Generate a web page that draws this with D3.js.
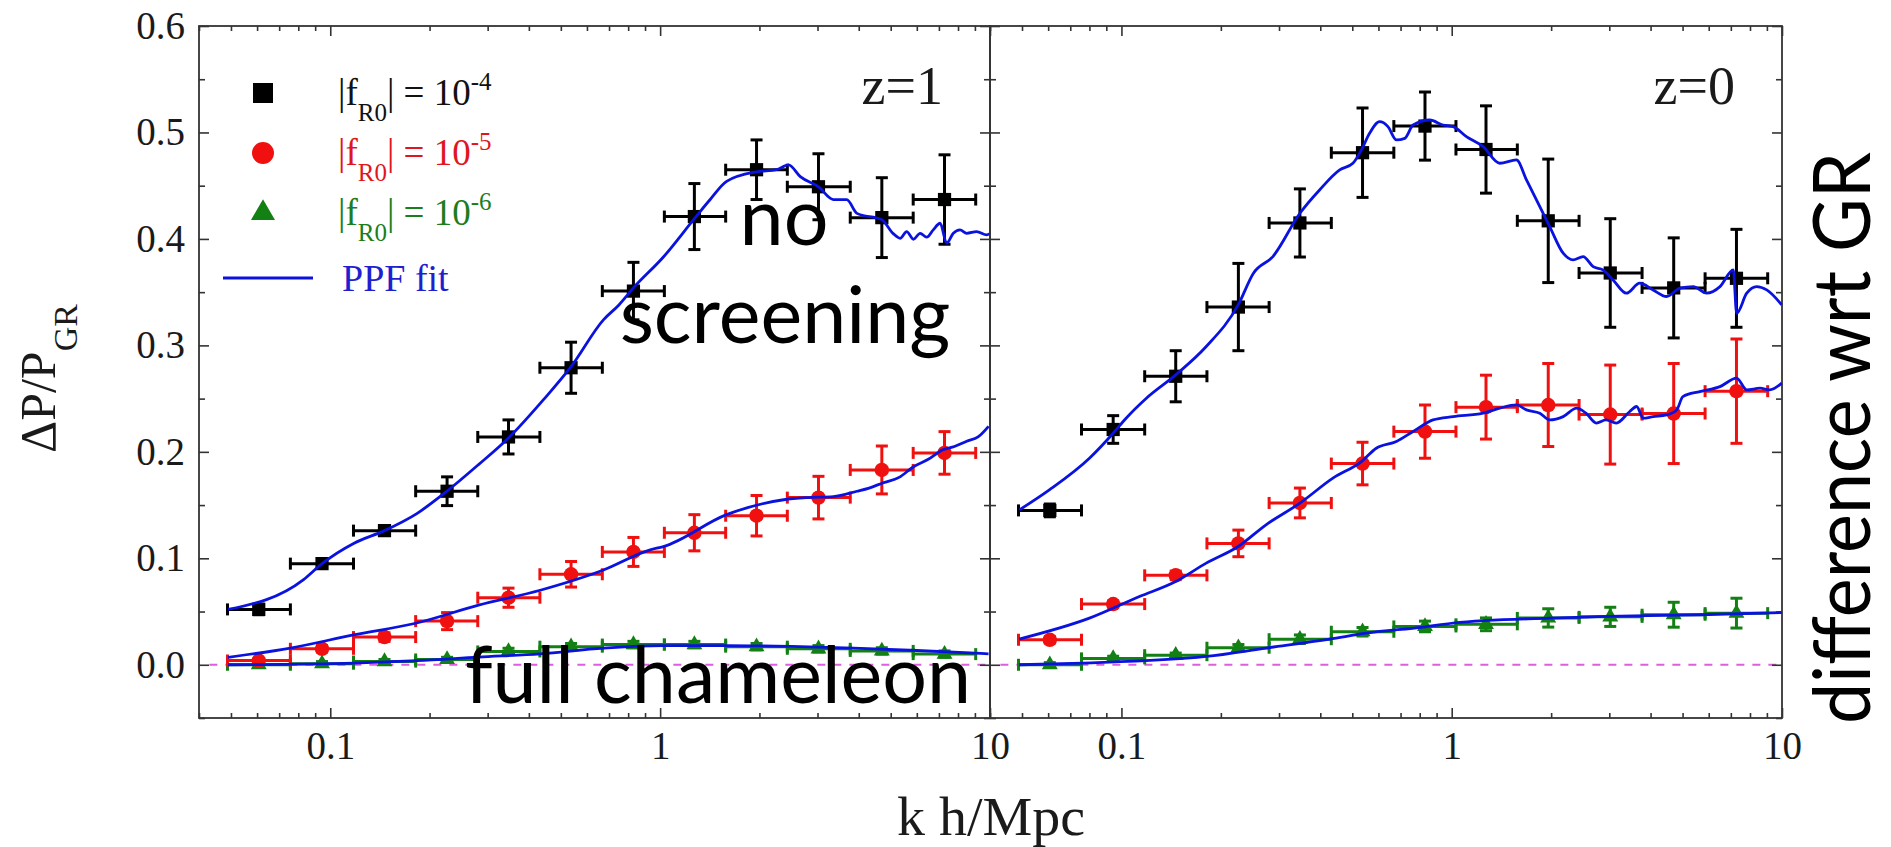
<!DOCTYPE html>
<html><head><meta charset="utf-8">
<script src="https://cdn.jsdelivr.net/npm/d3@7"></script>
<style>html,body{margin:0;padding:0;background:#fff;} svg{display:block}</style>
</head><body>
<svg id="chart" width="1891" height="847"></svg>
<script>
// ---------------- DATA ----------------
const kCenters = [0.0607, 0.0944, 0.146, 0.226, 0.347, 0.537, 0.83, 1.27, 1.96, 3.02, 4.70, 7.28];
const kEdges   = [0.0488, 0.0757, 0.1176, 0.1815, 0.28, 0.432, 0.668, 1.03, 1.58, 2.43, 3.77, 5.85, 9.05];

// z = 1 panel
const blackZ1    = [0.052, 0.095, 0.126, 0.163, 0.214, 0.279, 0.351, 0.421, 0.465, 0.449, 0.420, 0.437];
const blackZ1Err = [0.005, 0.004, 0.004, 0.0135, 0.016, 0.024, 0.027, 0.031, 0.028, 0.031, 0.0375, 0.042];
const redZ1      = [0.004, 0.015, 0.026, 0.041, 0.063, 0.085, 0.106, 0.124, 0.140, 0.157, 0.183, 0.199];
const redZ1Err   = [0.002, 0.003, 0.004, 0.008, 0.009, 0.012, 0.0136, 0.017, 0.019, 0.020, 0.0225, 0.020];
const greenZ1    = [0.000, 0.001, 0.003, 0.005, 0.0125, 0.017, 0.019, 0.019, 0.017, 0.015, 0.013, 0.010];
const greenZ1Err = [0.002, 0.002, 0.002, 0.002, 0.003, 0.003, 0.003, 0.003, 0.003, 0.003, 0.003, 0.003];

// z = 0 panel
const blackZ0    = [0.145, 0.221, 0.271, 0.336, 0.415, 0.481, 0.506, 0.484, 0.417, 0.368, 0.354, 0.363];
const blackZ0Err = [0.006, 0.013, 0.024, 0.041, 0.032, 0.042, 0.032, 0.041, 0.058, 0.051, 0.047, 0.046];
const redZ0      = [0.0235, 0.057, 0.084, 0.114, 0.152, 0.189, 0.219, 0.242, 0.244, 0.235, 0.236, 0.257];
const redZ0Err   = [0.003, 0.003, 0.004, 0.0125, 0.014, 0.020, 0.025, 0.030, 0.039, 0.0465, 0.047, 0.049];
const greenZ0    = [0.000, 0.006, 0.009, 0.016, 0.024, 0.031, 0.036, 0.038, 0.044, 0.045, 0.047, 0.0485];
const greenZ0Err = [0.002, 0.002, 0.002, 0.003, 0.004, 0.004, 0.005, 0.006, 0.0086, 0.009, 0.0117, 0.014];

// PPF fit curves [k, dP/P]
const fitZ1Black = [[0.049,0.052],[0.083,0.080],[0.0944,0.095],[0.1177,0.114],[0.146,0.126],[0.183,0.142],[0.2257,0.163],[0.2815,0.188],[0.347,0.213],[0.443,0.249],[0.537,0.280],[0.673,0.324],[0.75,0.338],[0.83,0.354],[1.023,0.383],[1.27,0.419],[1.418,0.437],[1.59,0.454],[1.96,0.463],[2.25,0.465],[2.45,0.4695],[2.66,0.4585],[3.02,0.449],[3.35,0.437],[3.68,0.437],[3.95,0.424],[4.70,0.418],[5.09,0.405],[5.34,0.4006],[5.59,0.4069],[5.86,0.3997],[6.14,0.4053],[6.43,0.4016],[6.73,0.4085],[7.06,0.4147],[7.39,0.396],[7.74,0.4053],[8.11,0.4085],[8.5,0.4053],[9.11,0.4069],[9.77,0.4038],[10,0.405]];
const fitZ1Red = [[0.049,0.007],[0.0757,0.0157],[0.1176,0.028],[0.1815,0.039],[0.2815,0.056],[0.433,0.070],[0.673,0.089],[0.933,0.108],[1.023,0.111],[1.59,0.141],[2.37,0.155],[2.8,0.157],[3.35,0.158],[3.95,0.163],[4.3,0.166],[4.75,0.171],[5.3,0.176],[5.86,0.186],[6.5,0.193],[7.2,0.202],[7.8,0.205],[8.5,0.210],[9.2,0.214],[9.9,0.224]];
const fitZ1Green = [[0.049,0.000],[0.1177,0.0016],[0.183,0.0038],[0.2815,0.0072],[0.433,0.0103],[0.673,0.0157],[0.933,0.0178],[1.023,0.018],[1.59,0.018],[2.5,0.0172],[3.86,0.0157],[6.0,0.0134],[9.9,0.0103]];
const fitZ0Black = [[0.0491,0.1455],[0.0605,0.1643],[0.08,0.194],[0.0944,0.2175],[0.1033,0.2316],[0.119,0.2504],[0.146,0.2723],[0.1806,0.2989],[0.2257,0.338],[0.251,0.3678],[0.2874,0.3834],[0.347,0.4241],[0.398,0.446],[0.458,0.4648],[0.502,0.471],[0.533,0.4836],[0.564,0.4992],[0.605,0.5101],[0.641,0.5055],[0.68,0.493],[0.721,0.4945],[0.764,0.507],[0.858,0.5117],[0.941,0.507],[1.01,0.5055],[1.108,0.4961],[1.244,0.4867],[1.398,0.4711],[1.57,0.4742],[1.684,0.4554],[1.848,0.4304],[1.98,0.4116],[2.175,0.3866],[2.33,0.3803],[2.5,0.3834],[2.68,0.374],[2.87,0.3709],[3.08,0.3615],[3.38,0.349],[3.71,0.3584],[4.07,0.3521],[4.47,0.3459],[4.91,0.3537],[5.39,0.3552],[5.91,0.349],[6.49,0.3552],[7.12,0.3709],[7.29,0.3302],[7.82,0.349],[8.38,0.3552],[8.99,0.3521],[9.98,0.338]];
const fitZ0Red = [[0.049,0.0241],[0.08,0.0438],[0.1134,0.0641],[0.146,0.0782],[0.1806,0.0955],[0.2257,0.1111],[0.274,0.1315],[0.347,0.1518],[0.4368,0.1753],[0.533,0.1909],[0.591,0.2034],[0.68,0.2097],[0.764,0.2191],[0.878,0.23],[1.01,0.2331],[1.244,0.2363],[1.398,0.241],[1.57,0.2441],[1.684,0.2394],[1.848,0.2363],[1.98,0.23],[2.175,0.2331],[2.39,0.241],[2.55,0.2363],[2.74,0.227],[2.93,0.23],[3.15,0.227],[3.46,0.2379],[3.63,0.2426],[3.80,0.2316],[4.07,0.2331],[4.47,0.2347],[4.80,0.2394],[5.01,0.2519],[5.64,0.2566],[6.49,0.2613],[7.29,0.2692],[7.82,0.2582],[8.58,0.2598],[9.19,0.2582],[9.98,0.2645]];
const fitZ0Green = [[0.049,0.000],[0.0764,0.0016],[0.1806,0.0078],[0.274,0.0157],[0.427,0.0241],[0.551,0.0297],[0.818,0.0354],[1.01,0.0392],[1.98,0.0438],[3.55,0.046],[5.64,0.047],[9.98,0.0491]];

const xMajor = [0.1, 1, 10];
const xMinor = [0.04,0.05,0.06,0.07,0.08,0.09,0.2,0.3,0.4,0.5,0.6,0.7,0.8,0.9,2,3,4,5,6,7,8,9];
const yMajor = [0, 0.1, 0.2, 0.3, 0.4, 0.5, 0.6];
const yMinor = [-0.05, 0.05, 0.15, 0.25, 0.35, 0.45, 0.55];

const legendLabels = ["10", "10", "10"];
const legendExponents = ["-4", "-5", "-6"];
const panelLabels = ["z=1", "z=0"];

// ---------------- DRAWING ----------------
const SERIF = "'Liberation Serif','Times New Roman',serif";
const SANS = "Lato, 'Open Sans', sans-serif";
const COL = {black: "#000000", red: "#f01010", green: "#138013", blue: "#0a12e0", axis: "#333"};
const svg = d3.select("#chart");

const y = d3.scaleLinear().domain([-0.05, 0.6]).range([718, 26]);

const panels = [
  { x: d3.scaleLog().domain([0.04, 10]).range([199, 990]), label: panelLabels[0],
    series: [
      {vals: greenZ1, err: greenZ1Err, color: COL.green, sym: d3.symbolTriangle, size: 110},
      {vals: redZ1, err: redZ1Err, color: COL.red, sym: d3.symbolCircle, size: 165},
      {vals: blackZ1, err: blackZ1Err, color: COL.black, sym: d3.symbolSquare, size: 175}],
    fits: [fitZ1Green, fitZ1Red, fitZ1Black] },
  { x: d3.scaleLog().domain([0.04, 10]).range([990, 1782]), label: panelLabels[1],
    series: [
      {vals: greenZ0, err: greenZ0Err, color: COL.green, sym: d3.symbolTriangle, size: 110},
      {vals: redZ0, err: redZ0Err, color: COL.red, sym: d3.symbolCircle, size: 165},
      {vals: blackZ0, err: blackZ0Err, color: COL.black, sym: d3.symbolSquare, size: 175}],
    fits: [fitZ0Green, fitZ0Red, fitZ0Black] }
];

function styleAxis(g, showText) {
  g.select(".domain").remove();
  g.selectAll(".tick line").attr("stroke", COL.axis).attr("stroke-width", 1.6);
  if (showText) {
    g.selectAll(".tick text").attr("font-family", SERIF).attr("font-size", 39).attr("fill", "#1a1a1a");
  } else {
    g.selectAll(".tick text").remove();
  }
}

panels.forEach((p, pi) => {
  const x = p.x;
  const [x0, x1] = x.range();
  const [yb, yt] = y.range();
  const g = svg.append("g");

  // zero reference line (dashed magenta)
  g.append("line")
    .attr("x1", x(0.043)).attr("x2", x(9.9)).attr("y1", y(0)).attr("y2", y(0))
    .attr("stroke", "#dd5fdd").attr("stroke-width", 2).attr("stroke-dasharray", "8,8");

  // bottom axis (major with labels, minor)
  const bMaj = g.append("g").attr("transform", `translate(0,${yb})`)
    .call(d3.axisBottom(x).tickValues(xMajor).tickFormat(d => String(d)).tickSize(-10).tickSizeOuter(0).tickPadding(13));
  styleAxis(bMaj, true);
  const bMin = g.append("g").attr("transform", `translate(0,${yb})`)
    .call(d3.axisBottom(x).tickValues(xMinor).tickSize(-5).tickSizeOuter(0));
  styleAxis(bMin, false);
  // top axis
  const tMaj = g.append("g").attr("transform", `translate(0,${yt})`)
    .call(d3.axisTop(x).tickValues(xMajor).tickSize(-10).tickSizeOuter(0));
  styleAxis(tMaj, false);
  const tMin = g.append("g").attr("transform", `translate(0,${yt})`)
    .call(d3.axisTop(x).tickValues(xMinor).tickSize(-5).tickSizeOuter(0));
  styleAxis(tMin, false);

  // left axis of panel
  const lMaj = g.append("g").attr("transform", `translate(${x0},0)`)
    .call(d3.axisLeft(y).tickValues(yMajor).tickFormat(d3.format(".1f")).tickSize(-10).tickSizeOuter(0).tickPadding(14));
  styleAxis(lMaj, pi === 0);
  const lMin = g.append("g").attr("transform", `translate(${x0},0)`)
    .call(d3.axisLeft(y).tickValues(yMinor).tickSize(-6).tickSizeOuter(0));
  styleAxis(lMin, false);
  // right axis of panel
  const rMaj = g.append("g").attr("transform", `translate(${x1},0)`)
    .call(d3.axisRight(y).tickValues(yMajor).tickSize(-10).tickSizeOuter(0));
  styleAxis(rMaj, false);
  const rMin = g.append("g").attr("transform", `translate(${x1},0)`)
    .call(d3.axisRight(y).tickValues(yMinor).tickSize(-6).tickSizeOuter(0));
  styleAxis(rMin, false);

  // frame
  g.append("rect").attr("x", x0).attr("y", yt).attr("width", x1 - x0).attr("height", yb - yt)
    .attr("fill", "none").attr("stroke", COL.axis).attr("stroke-width", 1.8);

  // data with error bars
  p.series.forEach(s => {
    const sg = g.append("g").attr("stroke", s.color).attr("stroke-width", 3).attr("fill", "none");
    s.vals.forEach((v, i) => {
      const cx = x(kCenters[i]), cy = y(v);
      const xl = x(kEdges[i]), xr = x(kEdges[i + 1]);
      const ylo = y(v - s.err[i]), yhi = y(v + s.err[i]);
      // horizontal bar with end caps
      sg.append("line").attr("x1", xl).attr("x2", xr).attr("y1", cy).attr("y2", cy);
      sg.append("line").attr("x1", xl).attr("x2", xl).attr("y1", cy - 6).attr("y2", cy + 6);
      sg.append("line").attr("x1", xr).attr("x2", xr).attr("y1", cy - 6).attr("y2", cy + 6);
      // vertical bar with caps
      sg.append("line").attr("x1", cx).attr("x2", cx).attr("y1", ylo).attr("y2", yhi);
      sg.append("line").attr("x1", cx - 6).attr("x2", cx + 6).attr("y1", ylo).attr("y2", ylo);
      sg.append("line").attr("x1", cx - 6).attr("x2", cx + 6).attr("y1", yhi).attr("y2", yhi);
    });
    g.append("g").selectAll("path").data(s.vals).join("path")
      .attr("d", d3.symbol().type(s.sym).size(s.size))
      .attr("transform", (v, i) => `translate(${x(kCenters[i])},${y(v)})`)
      .attr("fill", s.color);
  });

  // PPF fits
  const line = d3.line().x(d => x(d[0])).y(d => y(d[1])).curve(d3.curveMonotoneX);
  p.fits.forEach(f => {
    g.append("path").datum(f).attr("d", line)
      .attr("fill", "none").attr("stroke", COL.blue).attr("stroke-width", 2.8).attr("stroke-linejoin", "round");
  });

  // panel label
  g.append("text").attr("x", x1 - 47).attr("y", 104).attr("text-anchor", "end")
    .attr("font-family", SERIF).attr("font-size", 54).attr("fill", "#1a1a1a").text(p.label);
});

// ---------------- LEGEND ----------------
const legColors = [COL.black, COL.red, COL.green];
const legSyms = [d3.symbolSquare, d3.symbolCircle, d3.symbolTriangle];
const legSizes = [400, 380, 250];
const legTextColors = ["#111", "#e0161e", "#1b7d1b"];
const legBase = [105, 165, 225];
const leg = svg.append("g");
legBase.forEach((b, i) => {
  leg.append("path").attr("d", d3.symbol().type(legSyms[i]).size(legSizes[i])())
    .attr("transform", `translate(263,${b - 12})`).attr("fill", legColors[i]);
  const t = leg.append("text").attr("x", 338).attr("y", b)
    .attr("font-family", SERIF).attr("font-size", 37).attr("fill", legTextColors[i]);
  t.append("tspan").text("|f");
  t.append("tspan").attr("font-size", 25).attr("dy", 16).text("R0");
  t.append("tspan").attr("dy", -16).text("| = " + legendLabels[i]);
  t.append("tspan").attr("font-size", 25).attr("dy", -15).text(legendExponents[i]);
});
leg.append("line").attr("x1", 223).attr("x2", 313).attr("y1", 278).attr("y2", 278)
  .attr("stroke", COL.blue).attr("stroke-width", 2.8);
leg.append("text").attr("x", 342).attr("y", 291).attr("font-family", SERIF).attr("font-size", 38)
  .attr("fill", "#1f1fd0").text("PPF fit");

// ---------------- AXIS TITLES ----------------
const yl = svg.append("text").attr("transform", "translate(55,453) rotate(-90)")
  .attr("font-family", SERIF).attr("font-size", 50).attr("fill", "#1a1a1a");
yl.append("tspan").text("ΔP/P");
yl.append("tspan").attr("font-size", 34).attr("dy", 22).text("GR");

svg.append("text").attr("x", 991).attr("y", 835).attr("text-anchor", "middle")
  .attr("font-family", SERIF).attr("font-size", 54).attr("fill", "#1a1a1a")
  .attr("textLength", 188).attr("lengthAdjust", "spacingAndGlyphs").text("k h/Mpc");

// ---------------- ANNOTATIONS ----------------
const ann = svg.append("g").attr("font-family", SANS).attr("font-size", 79).attr("fill", "#000");
ann.append("text").attr("x", 784).attr("y", 245).attr("text-anchor", "middle").text("no");
ann.append("text").attr("x", 785).attr("y", 343).attr("text-anchor", "middle").text("screening");
ann.append("text").attr("x", 718).attr("y", 703).attr("text-anchor", "middle").text("full chameleon");
ann.append("text").attr("transform", "translate(1870,438) rotate(-90)").attr("text-anchor", "middle")
  .attr("textLength", 572).attr("lengthAdjust", "spacingAndGlyphs").text("difference wrt GR");
</script>
</body></html>
